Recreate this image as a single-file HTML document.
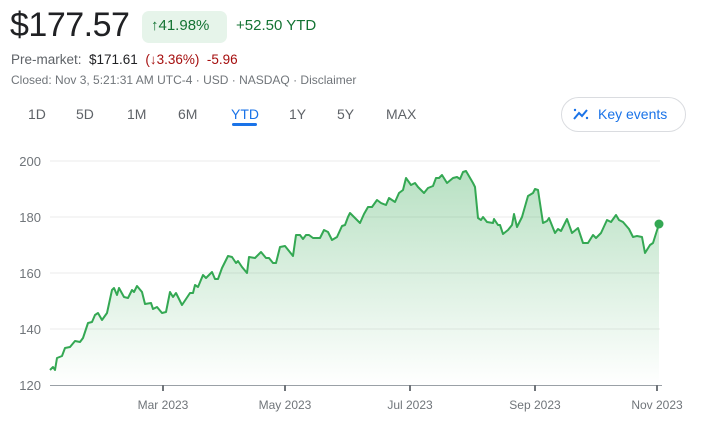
<!DOCTYPE html>
<html><head><meta charset="utf-8"><style>
body{margin:0;width:701px;height:429px;background:#fff;font-family:"Liberation Sans",Arial,sans-serif;position:relative;overflow:hidden}
.a{position:absolute;white-space:nowrap}
</style></head><body>
<div class="a" style="left:10px;top:6px;font-size:34px;color:#202124;letter-spacing:-0.5px">$177.57</div>
<div class="a" style="left:142px;top:11px;width:85px;height:32px;background:#e6f4ea;border-radius:7px"></div>
<div class="a" style="left:151px;top:17px;font-size:15px;color:#137333">↑41.98%</div>
<div class="a" style="left:236px;top:17px;font-size:15px;color:#137333">+52.50 YTD</div>
<div class="a" style="left:11px;top:52px;font-size:13.5px;color:#5f6368">Pre-market: <span style="color:#202124">&nbsp;$171.61</span>&nbsp; <span style="color:#a50e0e">(↓3.36%)&nbsp; -5.96</span></div>
<div class="a" style="left:11px;top:73px;font-size:12px;color:#70757a">Closed: Nov 3, 5:21:31 AM UTC-4 · USD · NASDAQ · Disclaimer</div>
<div class="a" style="left:28px;top:106px;font-size:14px;color:#5f6368">1D</div>
<div class="a" style="left:76px;top:106px;font-size:14px;color:#5f6368">5D</div>
<div class="a" style="left:127px;top:106px;font-size:14px;color:#5f6368">1M</div>
<div class="a" style="left:178px;top:106px;font-size:14px;color:#5f6368">6M</div>
<div class="a" style="left:231px;top:106px;font-size:14px;color:#1a73e8">YTD</div>
<div class="a" style="left:232px;top:123px;width:25px;height:3px;background:#1a73e8;border-radius:2px"></div>
<div class="a" style="left:289px;top:106px;font-size:14px;color:#5f6368">1Y</div>
<div class="a" style="left:337px;top:106px;font-size:14px;color:#5f6368">5Y</div>
<div class="a" style="left:386px;top:106px;font-size:14px;color:#5f6368">MAX</div>
<div class="a" style="left:561px;top:97px;width:123px;height:33px;border:1px solid #dadce0;border-radius:18px"></div>
<svg class="a" style="left:572px;top:106px" width="18" height="16" viewBox="0 0 18 16"><polyline points="2,13 7,7 10,10 15,4" fill="none" stroke="#1a73e8" stroke-width="2"/><circle cx="3" cy="4" r="1.2" fill="#1a73e8"/><circle cx="15" cy="12" r="1.2" fill="#1a73e8"/></svg>
<div class="a" style="left:598px;top:106px;font-size:14px;color:#1a73e8">Key events</div>
<svg class="a" style="left:0;top:0" width="701" height="429">
<defs><linearGradient id="g" x1="0" y1="0" x2="0" y2="1"><stop offset="0" stop-color="#34a853" stop-opacity="0.35"/><stop offset="1" stop-color="#34a853" stop-opacity="0"/></linearGradient></defs>
<g stroke="#ebebeb" stroke-width="1"><line x1="50" y1="161" x2="660" y2="161"/><line x1="50" y1="217" x2="660" y2="217"/><line x1="50" y1="273" x2="660" y2="273"/><line x1="50" y1="329" x2="660" y2="329"/></g>
<g font-size="13" fill="#70757a" text-anchor="end"><text x="41" y="166">200</text><text x="41" y="222">180</text><text x="41" y="278">160</text><text x="41" y="334">140</text><text x="41" y="390">120</text></g>
<path d="M50,370 L53,367 55,370 57,358 62,356 65,348 70,347 75,341 80,342 83,338 88,323 92,322 95,315 98,313 102,320 107,313 112,290 114,288 117,295 119,288 124,297 128,298 132,290 134,292 137,286 142,292 145,304 151,303 153,309 157,307 162,313 166,312 170,292 173,297 176,293 182,305 190,293 193,293 195,285 198,287 203,275 206,278 212,272 215,279 218,279 222,268 228,256 232,257 236,263 238,261 242,267 247,273 249,257 255,258 261,252 266,258 269,258 273,263 276,263 280,247 285,246 293,256 296,235 300,235 303,239 306,235 309,235 313,238 320,238 324,230 328,232 332,240 337,237 342,226 345,225 348,217 350,213 355,218 360,223 364,214 368,207 372,207 377,200 381,203 386,205 389,198 395,202 399,193 403,190 406,178 411,185 415,183 418,187 424,193 428,188 433,186 436,178 439,178 442,175 447,183 453,178 457,177 460,179 463,172 466,171 473,183 475,187 478,218 481,220 483,217 487,222 493,223 494,219 498,225 500,225 503,234 508,230 512,225 514,214 517,227 522,217 528,196 533,193 535,189 538,190 543,223 547,221 549,218 555,233 558,229 561,231 567,219 572,233 578,228 583,243 588,243 593,235 596,238 601,233 607,220 611,222 616,215 619,220 623,222 629,229 633,237 637,236 642,237 645,253 650,245 653,243 659,224 L659,385 L50,385 Z" fill="url(#g)"/>
<polyline fill="none" stroke="#34a853" stroke-width="2" stroke-linejoin="round" points="50,370 53,367 55,370 57,358 62,356 65,348 70,347 75,341 80,342 83,338 88,323 92,322 95,315 98,313 102,320 107,313 112,290 114,288 117,295 119,288 124,297 128,298 132,290 134,292 137,286 142,292 145,304 151,303 153,309 157,307 162,313 166,312 170,292 173,297 176,293 182,305 190,293 193,293 195,285 198,287 203,275 206,278 212,272 215,279 218,279 222,268 228,256 232,257 236,263 238,261 242,267 247,273 249,257 255,258 261,252 266,258 269,258 273,263 276,263 280,247 285,246 293,256 296,235 300,235 303,239 306,235 309,235 313,238 320,238 324,230 328,232 332,240 337,237 342,226 345,225 348,217 350,213 355,218 360,223 364,214 368,207 372,207 377,200 381,203 386,205 389,198 395,202 399,193 403,190 406,178 411,185 415,183 418,187 424,193 428,188 433,186 436,178 439,178 442,175 447,183 453,178 457,177 460,179 463,172 466,171 473,183 475,187 478,218 481,220 483,217 487,222 493,223 494,219 498,225 500,225 503,234 508,230 512,225 514,214 517,227 522,217 528,196 533,193 535,189 538,190 543,223 547,221 549,218 555,233 558,229 561,231 567,219 572,233 578,228 583,243 588,243 593,235 596,238 601,233 607,220 611,222 616,215 619,220 623,222 629,229 633,237 637,236 642,237 645,253 650,245 653,243 659,224"/>
<circle cx="659" cy="224" r="4.5" fill="#34a853"/>
<line x1="50" y1="385.5" x2="662" y2="385.5" stroke="#9aa0a6" stroke-width="1"/>
<g stroke="#70757a" stroke-width="2"><line x1="163" y1="385" x2="163" y2="391"/><line x1="285" y1="385" x2="285" y2="391"/><line x1="410" y1="385" x2="410" y2="391"/><line x1="535" y1="385" x2="535" y2="391"/><line x1="657" y1="385" x2="657" y2="391"/></g>
<g font-size="12" fill="#70757a" text-anchor="middle"><text x="163" y="409">Mar 2023</text><text x="285" y="409">May 2023</text><text x="410" y="409">Jul 2023</text><text x="535" y="409">Sep 2023</text><text x="657" y="409">Nov 2023</text></g>
</svg>
</body></html>
